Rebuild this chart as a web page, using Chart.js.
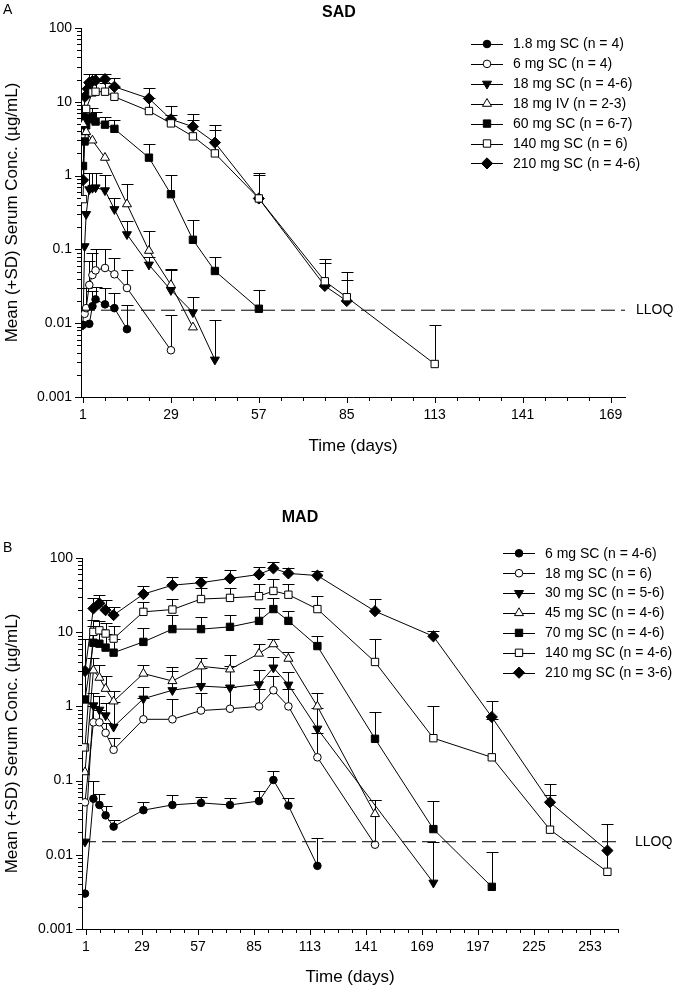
<!DOCTYPE html>
<html>
<head>
<meta charset="utf-8">
<script src="https://cdn.jsdelivr.net/npm/chart.js@4.4.1/dist/chart.umd.min.js"></script>
<style>
  html, body { margin: 0; padding: 0; background: #fff; }
  #wrap { position: relative; width: 677px; height: 997px; }
  canvas { position: absolute; left: 0; }
  #chartA { top: 0; }
  #chartB { top: 480px; }
</style>
</head>
<body>
<div id="wrap">
  <canvas id="chartA" width="677" height="480"></canvas>
  <canvas id="chartB" width="677" height="517"></canvas>
</div>
<script>
// ---- shared ----
const LLOQ = 0.015;
const concTicks = [0.001, 0.01, 0.1, 1, 10, 100];

// ---- A: SAD (day, mean, mean+SD) ----
const sadTicks = [1, 29, 57, 85, 113, 141, 169];
const sadLabels = ['1.8 mg SC (n = 4)', '6 mg SC (n = 4)', '18 mg SC (n = 4-6)', '18 mg IV (n = 2-3)',
                   '60 mg SC (n = 6-7)', '140 mg SC (n = 6)', '210 mg SC (n = 4-6)'];

const sad1Days = [1, 3, 4, 5, 8, 11, 15];
const sad1Mean = [0.0095, 0.0098, 0.017, 0.021, 0.018, 0.016, 0.0083];
const sad1Top  = [null, null, 0.027, 0.031, 0.030, 0.026, 0.0175];

const sad2Days = [1.5, 2, 3, 4, 5, 8, 11, 15, 29];
const sad2Mean = [0.0134, 0.016, 0.033, 0.045, 0.052, 0.056, 0.046, 0.030, 0.0043];
const sad2Top  = [null, 0.03, 0.07, 0.09, 0.1, 0.1, 0.076, 0.053, 0.0129];

const sad3Days = [1, 1.5, 2, 3, 4, 5, 8, 11, 15, 22, 29, 36, 43];
const sad3Mean = [0.0095, 0.11, 0.30, 0.65, 0.68, 0.69, 0.63, 0.35, 0.16, 0.062, 0.028, 0.014, 0.0032];
const sad3Top  = [null, null, null, 1.1, 1.1, 1.1, 1.03, 0.49, 0.24, 0.078, 0.053, 0.023, 0.011];

const sad4Days = [1, 2, 4, 8, 15, 22, 29, 36];
const sad4Mean = [5.0, 3.9, 3.0, 1.75, 0.41, 0.096, 0.033, 0.0088];
const sad4Top  = [null, null, null, null, 0.76, 0.18, 0.055, null];

const sad5Days = [1, 1.5, 2, 3, 4, 5, 8, 11, 22, 29, 36, 43, 57];
const sad5Mean = [1.35, 2.9, 4.8, 5.8, 6.2, 5.4, 4.9, 4.3, 1.75, 0.56, 0.135, 0.051, 0.0157];
const sad5Top  = [null, null, null, null, 8.3, 7.3, 6.3, 5.7, 2.65, 1.02, 0.25, 0.078, 0.028];

const sad6Days = [1, 1.5, 2, 4, 5, 8, 11, 22, 29, 36, 43, 57, 78, 85, 113];
const sad6Mean = [0.48, 3.2, 8.0, 13.4, 13.7, 13.7, 11.7, 7.5, 5.1, 3.4, 2.0, 0.49, 0.037, 0.0225, 0.0028];
const sad6Top  = [null, null, null, 18, 19, 18, 16, 11.3, 6.7, 5.66, 4.15, 1.03, 0.065, 0.039, 0.0096];

const sad7Days = [1, 1.2, 1.6, 2.5, 3, 4, 5, 8, 11, 22, 29, 36, 43, 57, 78, 85];
const sad7Mean = [0.87, 6.5, 11.7, 15, 18.2, 19, 19.5, 20.3, 16, 11.1, 5.8, 4.6, 2.8, 0.49, 0.032, 0.020];
const sad7Top  = [null, null, null, null, 24, 24, 24, 24, 21, 15.5, 8.8, 6.9, 4.9, 1.1, 0.075, 0.049];

// ---- B: MAD (day, mean, mean+SD) ----
const madTicks = [1, 29, 57, 85, 113, 141, 169, 197, 225, 253];
const madLabels = ['6 mg SC (n = 4-6)', '18 mg SC (n = 6)', '30 mg SC (n = 5-6)', '45 mg SC (n = 4-6)',
                   '70 mg SC (n = 4-6)', '140 mg SC (n = 4-6)', '210 mg SC (n = 3-6)'];

const madDays = [0.5, 4.7, 7.7, 10.8, 14.8, 29.7, 44.2, 58.5, 73, 87.5, 94.7, 102.2, 116.7,
                 145.5, 174.7, 203.9, 233, 261.7];

const mad1Days = madDays.slice(0, 13);
const mad1Mean = [0.003, 0.057, 0.047, 0.034, 0.024, 0.040, 0.047, 0.050, 0.047, 0.053, 0.102, 0.046, 0.0071];
const mad1Top  = [null, 0.1, 0.067, 0.046, 0.029, 0.052, 0.063, 0.061, 0.059, 0.072, 0.133, 0.059, 0.0168];

const mad2Days = madDays.slice(0, 14);
const mad2Mean = [0.051, 0.61, 0.61, 0.44, 0.26, 0.67, 0.67, 0.88, 0.93, 1.0, 1.65, 1.0, 0.206, 0.0137];
const mad2Top  = [null, 1.0, 0.9, 0.6, 0.38, 1.3, 1.27, 1.5, 1.8, 1.7, 2.6, 1.7, 0.44, 0.054];

const mad3Days = madDays.slice(0, 13).concat([174.7]);
const mad3Mean = [0.015, 1.03, 0.9, 0.755, 0.53, 1.27, 1.65, 1.88, 1.79, 1.98, 3.33, 1.96, 0.5, 0.0042];
const mad3Top  = [null, 1.5, 1.4, 1.1, 1.14, 1.82, 3.0, 3.3, 3.5, 3.1, 4.6, 2.9, 0.95, 0.0148];

const mad4Days = madDays.slice(0, 14);
const mad4Mean = [0.13, 3.06, 2.44, 1.73, 1.17, 2.77, 2.2, 3.47, 3.16, 5.15, 6.9, 4.4, 1.0, 0.0355];
const mad4Top  = [null, 4.5, 3.6, 2.6, 1.6, 3.6, 3.4, 4.5, 5.0, 7.0, 8.0, 5.4, 1.53, 0.055];

const mad5Days = madDays.slice(0, 16);
const mad5Mean = [1.24, 7.2, 7.0, 6.2, 5.3, 7.4, 11, 11, 11.8, 14.2, 20.5, 14.2, 6.5, 0.366, 0.0222, 0.0037];
const mad5Top  = [8.0, 12, 11, 9.5, 8.0, 11.4, 17, 15.8, 17, 21, 29, 19.2, 8.8, 0.84, 0.053, 0.011];

const mad6Days = madDays.slice();
const mad6Mean = [0.28, 10.1, 10.6, 9.6, 8.2, 18.8, 20.2, 28, 29, 30.6, 36, 32, 20.5, 3.97, 0.373, 0.206, 0.0218, 0.0059];
const mad6Top  = [null, 14.5, 14, 13.5, 12, 25.7, 27.6, 40, 40, 44, 51.5, 44.6, 31, 8.05, 1.0, 0.68, 0.063, 0.026];

const mad7Days = madDays.slice();
const mad7Mean = [3.0, 20.9, 24.4, 19.8, 17, 32.6, 43, 46.5, 53, 60, 72.5, 62, 58, 19.2, 8.8, 0.72, 0.051, 0.0114];
const mad7Top  = [null, 29, 31.6, 27, 22, 41.6, 56, 56, 68.6, 75, 87.7, 72.5, 67, 27.6, 10.4, 1.2, 0.09, null];

// marker looks, same order in both panels
const markers = [
  { style: 'circle',   fill: '#000', r: 3.8 },
  { style: 'circle',   fill: '#fff', r: 3.8 },
  { style: 'triangle', fill: '#000', r: 5.2, rot: 180 },
  { style: 'triangle', fill: '#fff', r: 5.2 },
  { style: 'rect',     fill: '#000', r: 5.2 },
  { style: 'rect',     fill: '#fff', r: 5.2 },
  { style: 'rectRot',  fill: '#000', r: 5.6 }
];

Chart.defaults.font.family = "'Liberation Sans', Arial, sans-serif";
Chart.defaults.font.size = 14;
Chart.defaults.color = '#000';

function series(label, days, mean, top, mk) {
  return {
    label: label,
    data: days.map((d, i) => ({ x: d, y: mean[i] })),
    upper: top,
    inLegend: true,
    showLine: true,
    borderColor: '#000',
    borderWidth: 1,
    tension: 0,
    pointStyle: mk.style,
    pointRotation: mk.rot || 0,
    pointRadius: mk.r,
    pointBackgroundColor: mk.fill,
    pointBorderColor: '#000',
    pointBorderWidth: 1
  };
}

function lloqLine(x0, x1) {
  return {
    label: 'LLOQ',
    data: [{ x: x0, y: LLOQ }, { x: x1, y: LLOQ }],
    showLine: true,
    borderColor: '#000',
    borderWidth: 1,
    borderDash: [14, 6],
    pointRadius: 0
  };
}

// upward (+SD) error bars with a cap
const errorBars = {
  id: 'errorBars',
  beforeDatasetsDraw(chart) {
    const { ctx, scales: { x, y } } = chart;
    ctx.save();
    ctx.strokeStyle = '#000';
    ctx.lineWidth = 1;
    chart.data.datasets.forEach(ds => {
      if (!ds.upper) return;
      ds.data.forEach((p, i) => {
        const up = ds.upper[i];
        if (up == null) return;
        const px = Math.round(x.getPixelForValue(p.x)) + 0.5;
        const y0 = y.getPixelForValue(p.y);
        const y1 = Math.round(y.getPixelForValue(up)) + 0.5;
        ctx.beginPath();
        ctx.moveTo(px, y0);
        ctx.lineTo(px, y1);
        ctx.moveTo(px - 6, y1);
        ctx.lineTo(px + 6, y1);
        ctx.stroke();
      });
    });
    ctx.restore();
  }
};

// major + minor tick marks on both axes (outside)
const axisTicks = {
  id: 'axisTicks',
  afterDraw(chart, args, opts) {
    const { ctx, chartArea: a, scales: { x, y } } = chart;
    ctx.save();
    ctx.strokeStyle = '#000';
    ctx.lineWidth = 1;
    ctx.beginPath();
    concTicks.forEach(base => {
      for (let k = 1; k <= 9; k++) {
        const v = base * k;
        if (v > y.max * 1.0001) break;
        const py = Math.round(y.getPixelForValue(v)) + 0.5;
        const len = k === 1 ? 6 : 4;
        ctx.moveTo(a.left - len, py);
        ctx.lineTo(a.left, py);
      }
    });
    for (let d = opts.majors[0]; d <= x.max; d += 7) {
      const px = Math.round(x.getPixelForValue(d)) + 0.5;
      const len = opts.majors.includes(d) ? 6 : 4;
      ctx.moveTo(px, a.bottom);
      ctx.lineTo(px, a.bottom + len);
    }
    ctx.stroke();
    ctx.restore();
  }
};

// legend with line-through-marker samples, inside the plot
const lineLegend = {
  id: 'lineLegend',
  afterDraw(chart, args, opts) {
    const ctx = chart.ctx;
    ctx.save();
    ctx.font = "14px 'Liberation Sans', Arial, sans-serif";
    ctx.textBaseline = 'middle';
    let row = 0;
    chart.data.datasets.forEach(ds => {
      if (!ds.inLegend) return;
      const yy = opts.y + row * opts.step;
      ctx.strokeStyle = '#000';
      ctx.lineWidth = 1;
      ctx.beginPath();
      ctx.moveTo(opts.x, Math.round(yy) + 0.5);
      ctx.lineTo(opts.x + opts.len, Math.round(yy) + 0.5);
      ctx.stroke();
      ctx.fillStyle = ds.pointBackgroundColor;
      Chart.helpers.drawPoint(ctx, {
        pointStyle: ds.pointStyle, rotation: ds.pointRotation,
        radius: ds.pointRadius, borderWidth: 1
      }, opts.x + opts.len / 2, yy);
      ctx.fillStyle = '#000';
      ctx.fillText(ds.label, opts.textX, yy + 0.5);
      row++;
    });
    ctx.restore();
  }
};

// panel letter, panel title and LLOQ note
const notes = {
  id: 'notes',
  afterDraw(chart, args, opts) {
    const { ctx, scales: { y } } = chart;
    ctx.save();
    ctx.fillStyle = '#000';
    ctx.textBaseline = 'middle';
    ctx.textAlign = 'left';
    ctx.font = "14px 'Liberation Sans', Arial, sans-serif";
    ctx.fillText(opts.letter, opts.letterX, opts.letterY);
    ctx.fillText('LLOQ', opts.lloqX, y.getPixelForValue(LLOQ));
    ctx.textAlign = 'center';
    ctx.font = "bold 16px 'Liberation Sans', Arial, sans-serif";
    ctx.fillText(opts.title, opts.titleX, opts.titleY);
    ctx.restore();
  }
};

function makeChart(id, cfg) {
  return new Chart(document.getElementById(id), {
    type: 'scatter',
    data: { datasets: cfg.datasets },
    plugins: [errorBars, axisTicks, lineLegend, notes],
    options: {
      responsive: false,
      animation: false,
      events: [],
      layout: { padding: cfg.padding },
      scales: {
        x: {
          type: 'linear',
          min: cfg.xMin,
          max: cfg.xMax,
          afterBuildTicks: s => { s.ticks = cfg.xTicks.map(v => ({ value: v })); },
          afterFit: s => { s.height = cfg.xHeight; },
          grid: { display: true, drawOnChartArea: false, tickLength: 6, tickColor: 'rgba(0,0,0,0)' },
          border: { display: true, color: '#000', width: 1 },
          ticks: { autoSkip: false, maxRotation: 0, padding: 4, font: { size: 14 } },
          title: { display: true, text: 'Time (days)', font: { size: 17 },
                   padding: { top: 0, bottom: cfg.xTitlePad } }
        },
        y: {
          type: 'logarithmic',
          min: 0.001,
          max: 100,
          afterBuildTicks: s => { s.ticks = concTicks.map(v => ({ value: v })); },
          afterFit: s => { s.width = cfg.yWidth; },
          grid: { display: true, drawOnChartArea: false, tickLength: 6, tickColor: 'rgba(0,0,0,0)' },
          border: { display: true, color: '#000', width: 1 },
          ticks: { autoSkip: false, padding: 3, font: { size: 14 }, callback: v => String(v) },
          title: { display: true, text: 'Mean (+SD) Serum Conc. (\u00b5g/mL)', font: { size: 17 },
                   padding: { top: 2, bottom: 0 } }
        }
      },
      plugins: {
        legend: { display: false },
        tooltip: { enabled: false },
        lineLegend: cfg.legend,
        axisTicks: { majors: cfg.xTicks },
        notes: cfg.notes
      }
    }
  });
}

const sadSets = [
  lloqLine(0.36, 173.6),
  series(sadLabels[0], sad1Days, sad1Mean, sad1Top, markers[0]),
  series(sadLabels[1], sad2Days, sad2Mean, sad2Top, markers[1]),
  series(sadLabels[2], sad3Days, sad3Mean, sad3Top, markers[2]),
  series(sadLabels[3], sad4Days, sad4Mean, sad4Top, markers[3]),
  series(sadLabels[4], sad5Days, sad5Mean, sad5Top, markers[4]),
  series(sadLabels[5], sad6Days, sad6Mean, sad6Top, markers[5]),
  series(sadLabels[6], sad7Days, sad7Mean, sad7Top, markers[6])
];

const madSets = [
  lloqLine(-1, 266),
  series(madLabels[0], mad1Days, mad1Mean, mad1Top, markers[0]),
  series(madLabels[1], mad2Days, mad2Mean, mad2Top, markers[1]),
  series(madLabels[2], mad3Days, mad3Mean, mad3Top, markers[2]),
  series(madLabels[3], mad4Days, mad4Mean, mad4Top, markers[3]),
  series(madLabels[4], mad5Days, mad5Mean, mad5Top, markers[4]),
  series(madLabels[5], mad6Days, mad6Mean, mad6Top, markers[5]),
  series(madLabels[6], mad7Days, mad7Mean, mad7Top, markers[6])
];

makeChart('chartA', {
  datasets: sadSets,
  xMin: 0.36, xMax: 173.6, xTicks: sadTicks,
  padding: { left: 0, right: 52, top: 28, bottom: 0 },
  yWidth: 81, xHeight: 83, xTitlePad: 23,
  legend: { x: 471, y: 44, step: 19.9, len: 32, textX: 513 },
  notes: { letter: 'A', letterX: 3, letterY: 10, title: 'SAD', titleX: 339, titleY: 13, lloqX: 636 }
});

makeChart('chartB', {
  datasets: madSets,
  xMin: -1, xMax: 267, xTicks: madTicks,
  padding: { left: 0, right: 59, top: 78, bottom: 0 },
  yWidth: 82, xHeight: 68, xTitlePad: 9,
  legend: { x: 503, y: 73.3, step: 19.9, len: 32, textX: 545 },
  notes: { letter: 'B', letterX: 3, letterY: 68, title: 'MAD', titleX: 300, titleY: 37.5, lloqX: 635 }
});
</script>
</body>
</html>
